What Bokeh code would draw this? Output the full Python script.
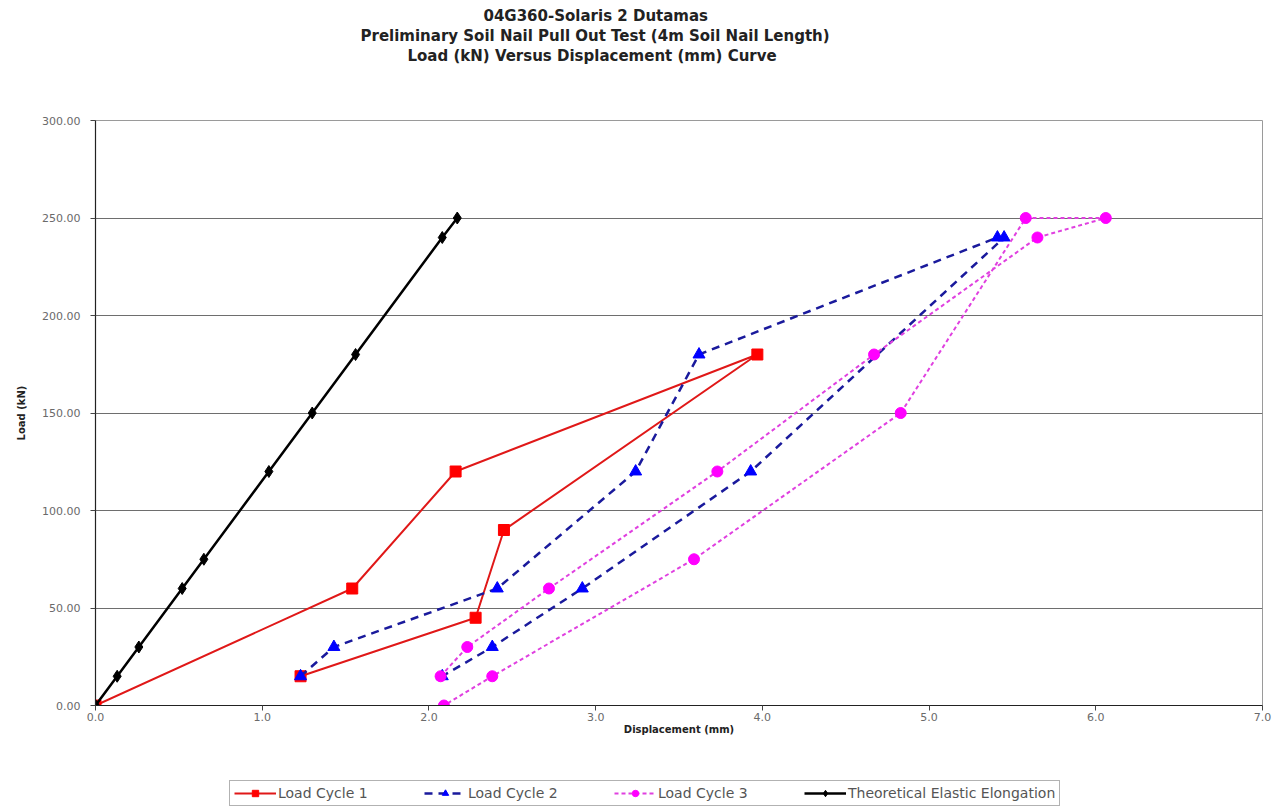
from bokeh.plotting import figure
from bokeh.models import FixedTicker, Legend, LegendItem, Title
from bokeh.layouts import column
from bokeh.embed import file_html
from bokeh.resources import INLINE

# ---- data ----
cycle1_disp = [0.00, 1.54, 2.16, 3.97, 2.45, 2.28, 1.23]
cycle1_load = [0, 60, 120, 180, 90, 45, 15]

cycle2_disp = [1.23, 1.43, 2.41, 3.24, 3.62, 5.41, 5.45, 3.93, 2.92, 2.38, 2.08]
cycle2_load = [15, 30, 60, 120, 180, 240, 240, 120, 60, 30, 15]

cycle3_disp = [2.07, 2.23, 2.72, 3.73, 4.67, 5.65, 6.06, 5.58, 4.83, 3.59, 2.38, 2.09]
cycle3_load = [15, 30, 60, 120, 180, 240, 250, 250, 150, 75, 15, 0]

elastic_disp = [0.00, 0.13, 0.26, 0.52, 0.65, 1.04, 1.30, 1.56, 2.08, 2.17]
elastic_load = [0, 15, 30, 60, 75, 120, 150, 180, 240, 250]

x_ticks = [0, 1, 2, 3, 4, 5, 6, 7]
x_tick_labels = ["0.0", "1.0", "2.0", "3.0", "4.0", "5.0", "6.0", "7.0"]
y_ticks = [0, 50, 100, 150, 200, 250, 300]
y_tick_labels = ["0.00", "50.00", "100.00", "150.00", "200.00", "250.00", "300.00"]

title_lines = ["04G360-Solaris 2 Dutamas",
               "Preliminary Soil Nail Pull Out Test (4m Soil Nail Length)",
               "Load (kN) Versus Displacement (mm) Curve"]
series_names = ["Load Cycle 1", "Load Cycle 2", "Load Cycle 3",
                "Theoretical Elastic Elongation"]

# ---- styles per series ----
styles = [
    dict(line_color="#e01818", line_width=2, line_dash="solid",
         marker="square", size=11, color="#ff0000"),
    dict(line_color="#1a1a9c", line_width=2.5, line_dash="8 6",
         marker="triangle", size=12, color="#0000ff"),
    dict(line_color="#e040e0", line_width=2, line_dash="4 3",
         marker="circle", size=11, color="#ff00ff"),
    dict(line_color="#000000", line_width=2.5, line_dash="solid",
         marker="diamond", size=12, color="#000000"),
]
series_data = [(cycle1_disp, cycle1_load), (cycle2_disp, cycle2_load),
               (cycle3_disp, cycle3_load), (elastic_disp, elastic_load)]

# ---- main figure ----
p = figure(frame_width=1167, frame_height=585, x_range=(0, 7), y_range=(0, 300),
           output_backend="svg", toolbar_location=None,
           min_border_left=95, min_border_right=19,
           min_border_top=120, min_border_bottom=67)
p.title_location = None
p.background_fill_color = "white"
p.border_fill_color = "white"
p.outline_line_color = "#9a9a9a"
p.outline_line_width = 1

p.xgrid.visible = False
p.ygrid.grid_line_color = "#6e6e6e"
p.ygrid.grid_line_width = 1

p.xaxis.ticker = FixedTicker(ticks=x_ticks)
p.xaxis.major_label_overrides = dict(zip(x_ticks, x_tick_labels))
p.yaxis.ticker = FixedTicker(ticks=y_ticks)
p.yaxis.major_label_overrides = dict(zip(y_ticks, y_tick_labels))

for ax in (p.xaxis[0], p.yaxis[0]):
    ax.axis_line_color = "#222222"
    ax.axis_line_width = 1.2
    ax.major_tick_line_color = "#444444"
    ax.major_tick_out = 5
    ax.major_tick_in = 0
    ax.minor_tick_line_color = None
    ax.major_label_text_font = "DejaVu Sans"
    ax.major_label_text_font_size = "11px"
    ax.major_label_text_color = "#6a6a6a"
    ax.axis_label_text_font = "DejaVu Sans"
    ax.axis_label_text_font_style = "bold"
    ax.axis_label_text_font_size = "10px"
    ax.axis_label_text_color = "#222222"

p.xaxis.axis_label = "Displacement (mm)"
p.yaxis.axis_label = "Load (kN)"
p.xaxis.major_label_standoff = 2
p.xaxis.axis_label_standoff = 0
p.yaxis.major_label_standoff = 10
p.yaxis.axis_label_standoff = 12

for (xs, ys), st in zip(series_data, styles):
    p.line(xs, ys, line_color=st["line_color"], line_width=st["line_width"],
           line_dash=st["line_dash"])
    p.scatter(xs, ys, marker=st["marker"], size=st["size"],
              fill_color=st["color"], line_color=st["color"])

# ---- title: spacer nearest the frame, then the three lines upwards ----
p.add_layout(Title(text=" ", standoff=53, text_font_size="1px"), "above")
title_offsets = [388, 265, 312]
for i in (2, 1, 0):
    p.add_layout(Title(text=title_lines[i], align="left", offset=title_offsets[i],
                       standoff=0, text_font="DejaVu Sans",
                       text_font_style="bold", text_font_size="15px",
                       text_color="#222222"), "above")

# ---- legend strip (separate small figure under the chart) ----
# its ranges lie away from the data, so the swatch renderers stay out of view
q = figure(width=1281, height=36, x_range=(100, 101), y_range=(1000, 1001),
           output_backend="svg", toolbar_location=None,
           x_axis_location=None, y_axis_location=None, min_border=0)
q.title_location = None
q.xgrid.visible = False
q.ygrid.visible = False
q.outline_line_color = None
q.background_fill_color = "white"
q.border_fill_color = "white"

items = []
for name, (xs, ys), st in zip(series_names, series_data, styles):
    lr = q.line(xs[:2], ys[:2], line_color=st["line_color"],
                line_width=st["line_width"], line_dash=st["line_dash"])
    sr = q.scatter(xs[:1], ys[:1], marker=st["marker"], size=st["size"] - 2,
                   fill_color=st["color"], line_color=st["color"])
    items.append(LegendItem(label=name, renderers=[lr, sr]))

legend = Legend(items=items, orientation="horizontal", location=(134, 2))
legend.border_line_color = "#666666"
legend.border_line_width = 1
legend.background_fill_color = "white"
legend.padding = 4
legend.margin = 0
legend.spacing = 46
legend.glyph_width = 42
legend.glyph_height = 16
legend.label_standoff = 2
legend.label_width = 100
legend.label_text_font = "DejaVu Sans"
legend.label_text_font_size = "14px"
legend.label_text_color = "#555555"
q.add_layout(legend, "center")

layout = column(p, q, spacing=0)
open("out.html", "w").write(file_html(layout, INLINE))
